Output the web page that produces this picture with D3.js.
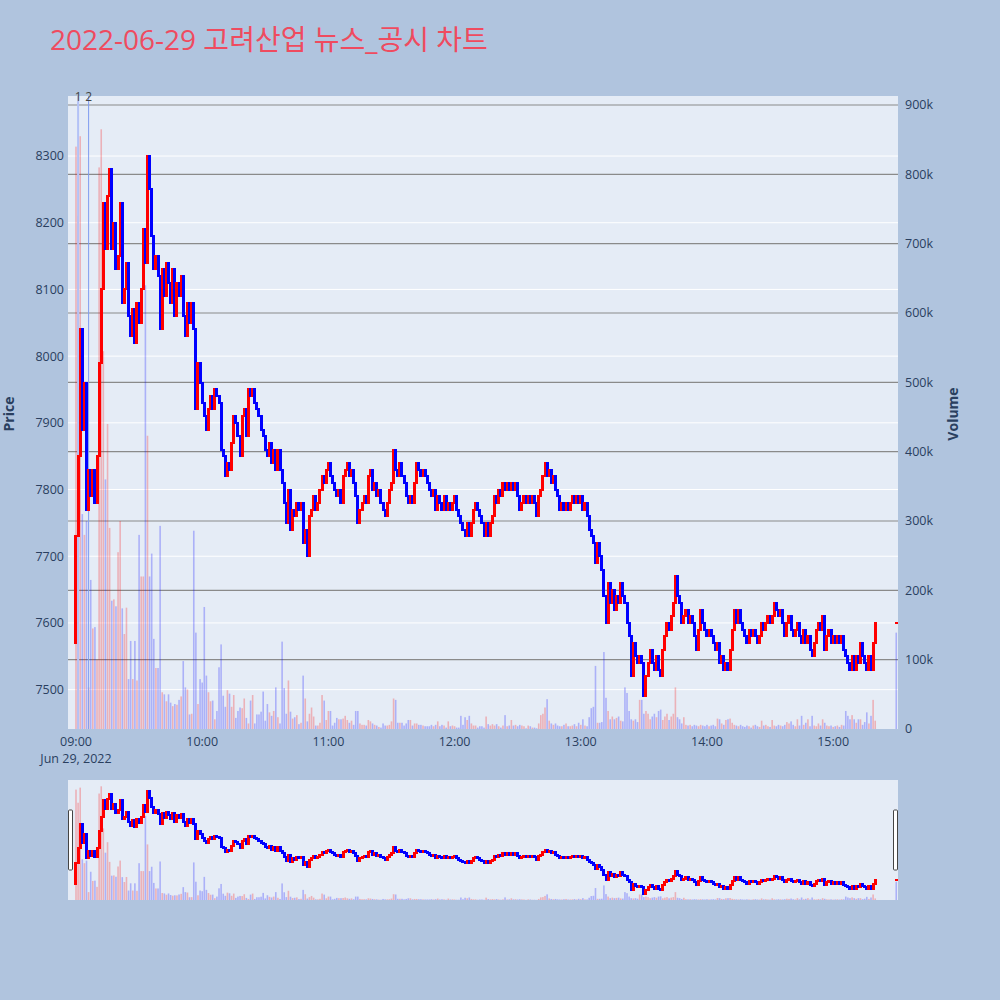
<!DOCTYPE html>
<html>
<head>
<meta charset="utf-8">
<script src="https://cdn.jsdelivr.net/npm/d3@7"></script>
<style>
  body { margin: 0; background: #b0c4de; }
  text { font-family: "Open Sans", "Noto Sans CJK KR", sans-serif; }
</style>
</head>
<body>
<svg id="chart"></svg>
<script>
// ---- chart data ----
const chartTitle = "2022-06-29 고려산업 뉴스_공시 차트";
const tradeDay = [2022, 5, 29];      // Jun 29, 2022
const firstOpen = 7570;              // open of the 09:00 candle

// 1-minute closes, 09:00 .. 15:20
const closes = [
  7730, 7850, 8040, 7890, 7960, 7770, 7830, 7790, 7830, 7780,
  7850, 7990, 8100, 8230, 8160, 8240, 8280, 8160, 8200, 8130,
  8150, 8230, 8080, 8100, 8140, 8060, 8030, 8070, 8020, 8080,
  8050, 8100, 8190, 8140, 8300, 8250, 8180, 8130, 8150, 8120,
  8040, 8130, 8090, 8140, 8110, 8080, 8130, 8060, 8110, 8090,
  8120, 8060, 8030, 8080, 8050, 8080, 8040, 7920, 7990, 7960,
  7930, 7910, 7890, 7920, 7940, 7920, 7950, 7940, 7930, 7860,
  7850, 7820, 7840, 7830, 7870, 7910, 7900, 7880, 7850, 7910,
  7920, 7880, 7950, 7940, 7950, 7930, 7920, 7910, 7890, 7880,
  7860, 7850, 7870, 7840, 7860, 7830, 7860, 7830, 7810, 7780,
  7750, 7800, 7740, 7770, 7760, 7780, 7770, 7780, 7720, 7740,
  7700, 7760, 7770, 7790, 7770, 7780, 7800, 7820, 7810, 7830,
  7840, 7820, 7810, 7800, 7790, 7800, 7780, 7820, 7830, 7840,
  7820, 7830, 7810, 7790, 7750, 7770, 7780, 7790, 7780, 7820,
  7830, 7800, 7810, 7790, 7800, 7780, 7770, 7760, 7780, 7800,
  7810, 7860, 7830, 7820, 7840, 7820, 7810, 7790, 7780, 7790,
  7780, 7810, 7840, 7830, 7820, 7830, 7820, 7810, 7800, 7790,
  7800, 7770, 7790, 7780, 7770, 7790, 7770, 7780, 7770, 7780,
  7790, 7770, 7760, 7750, 7740, 7730, 7750, 7730, 7750, 7770,
  7780, 7770, 7760, 7750, 7730, 7750, 7730, 7750, 7760, 7790,
  7780, 7800, 7790, 7810, 7800, 7810, 7800, 7810, 7800, 7810,
  7790, 7770, 7780, 7790, 7780, 7790, 7780, 7790, 7780, 7760,
  7790, 7800, 7820, 7840, 7820, 7830, 7810, 7820, 7800, 7790,
  7770, 7780, 7770, 7780, 7770, 7780, 7790, 7780, 7790, 7780,
  7790, 7770, 7780, 7760, 7740, 7730, 7720, 7690, 7720, 7700,
  7680, 7640, 7600, 7660, 7630, 7650, 7620, 7640, 7630, 7660,
  7640, 7630, 7600, 7580, 7520, 7570, 7550, 7540, 7550, 7540,
  7490, 7520, 7540, 7560, 7540, 7530, 7550, 7530, 7520, 7560,
  7580, 7600, 7590, 7610, 7630, 7670, 7640, 7630, 7600, 7610,
  7620, 7600, 7610, 7600, 7580, 7560, 7590, 7620, 7600, 7590,
  7580, 7590, 7580, 7570, 7560, 7570, 7540, 7550, 7530, 7540,
  7530, 7560, 7590, 7620, 7600, 7620, 7600, 7590, 7580, 7570,
  7590, 7580, 7590, 7580, 7570, 7580, 7600, 7590, 7600, 7610,
  7600, 7610, 7630, 7620, 7610, 7620, 7600, 7580, 7600, 7610,
  7590, 7580, 7590, 7600, 7580, 7570, 7590, 7570, 7580, 7560,
  7550, 7570, 7590, 7600, 7590, 7610, 7560, 7580, 7590, 7570,
  7580, 7570, 7580, 7570, 7580, 7560, 7550, 7540, 7530, 7550,
  7530, 7550, 7540, 7570, 7550, 7540, 7530, 7550, 7530, 7570,
  7600
];

// 1-minute volumes in thousands of shares, 09:00 .. 15:20
const volumesK = [
  840, 740, 855, 310, 280, 300, 60, 215, 145, 147,
  100, 810, 865, 545, 360, 440, 290, 185, 187, 177,
  255, 300, 174, 137, 175, 72, 127, 72, 127, 70,
  280, 220, 220, 640, 423, 220, 253, 130, 88, 88,
  293, 53, 50, 40, 50, 38, 33, 36, 35, 42,
  47, 98, 60, 57, 21, 22, 286, 139, 36, 72,
  67, 176, 77, 53, 40, 41, 14, 26, 89, 122,
  48, 32, 56, 51, 32, 49, 16, 26, 31, 30,
  44, 16, 8, 41, 49, 8, 21, 21, 25, 54,
  12, 36, 24, 19, 26, 60, 17, 8, 126, 59,
  22, 70, 25, 15, 17, 20, 7, 9, 77, 44,
  11, 22, 31, 18, 5, 5, 9, 49, 41, 13,
  26, 26, 5, 9, 16, 14, 14, 15, 19, 13,
  9, 12, 6, 26, 26, 8, 6, 6, 5, 13,
  11, 8, 6, 5, 3, 2, 8, 5, 5, 6,
  11, 44, 42, 9, 9, 9, 5, 8, 13, 13,
  5, 8, 8, 6, 6, 5, 4, 4, 4, 6,
  4, 6, 11, 4, 6, 5, 2, 11, 4, 5,
  4, 2, 2, 19, 6, 17, 13, 19, 8, 5,
  5, 2, 4, 4, 2, 18, 7, 5, 7, 5,
  7, 4, 2, 5, 20, 4, 5, 13, 5, 6,
  4, 6, 5, 4, 1, 5, 4, 2, 2, 1,
  8, 20, 22, 31, 43, 12, 8, 6, 8, 5,
  4, 4, 6, 8, 4, 4, 5, 7, 4, 9,
  6, 14, 5, 4, 17, 30, 32, 91, 9, 9,
  10, 111, 45, 26, 14, 18, 14, 16, 18, 12,
  11, 60, 52, 26, 14, 12, 14, 10, 42, 42,
  22, 26, 22, 14, 18, 22, 17, 26, 28, 13,
  18, 22, 13, 18, 22, 60, 17, 14, 8, 17,
  6, 5, 6, 4, 6, 5, 4, 6, 5, 4,
  6, 4, 5, 6, 4, 15, 14, 8, 6, 13,
  14, 15, 9, 6, 5, 4, 6, 4, 3, 5,
  4, 2, 5, 6, 4, 3, 12, 5, 6, 4,
  3, 13, 5, 4, 6, 5, 4, 6, 10, 8,
  11, 6, 4, 14, 5, 19, 6, 9, 14, 4,
  19, 5, 4, 8, 5, 14, 9, 5, 4, 5,
  3, 4, 5, 3, 6, 5, 26, 19, 14, 20,
  14, 9, 14, 14, 6, 10, 24, 8, 19, 42,
  12
];

// closing single-price auction
const closeTime = [15, 30];
const closePrice = 7600;
const closeVolumeK = 139;

// news / disclosure markers
const newsTimes = [[9, 1], [9, 6]];
const newsLabels = ["1", "2"];

const priceTicks = [7500, 7600, 7700, 7800, 7900, 8000, 8100, 8200, 8300];
const volumeTicks = [0, 100, 200, 300, 400, 500, 600, 700, 800, 900];
const hourTicks = [9, 10, 11, 12, 13, 14, 15];

// ---- build records ----
const at = (h, m, s) => new Date(tradeDay[0], tradeDay[1], tradeDay[2], h, m, s || 0);

const candles = closes.map((c, i) => {
  const o = i === 0 ? firstOpen : closes[i - 1];
  return { t: at(9, i), open: o, close: c, vol: volumesK[i] };
});
candles.push({ t: at(closeTime[0], closeTime[1]), open: closePrice, close: closePrice, vol: closeVolumeK, auction: true });
candles.forEach((d) => { d.up = d.close >= d.open; });

// ---- layout ----
const width = 1000, height = 1000;
const plot = { left: 68, right: 898, top: 96, bottom: 729 };
const slider = { top: 780, bottom: 900 };

const svg = d3.select("#chart").attr("width", width).attr("height", height);

const x = d3.scaleTime().domain([at(8, 56, 12), at(15, 30, 50)]).range([plot.left, plot.right]);
const yPrice = d3.scaleLinear().domain([7441, 8390]).range([plot.bottom, plot.top]);
const yVol = d3.scaleLinear().domain([0, 913]).range([plot.bottom, plot.top]);
const ysPrice = d3.scaleLinear().domain([7441, 8390]).range([slider.bottom, slider.top]);
const ysVol = d3.scaleLinear().domain([0, 913]).range([slider.bottom, slider.top]);

const upColor = "#ff0000", downColor = "#0000ff";
const upVol = "rgba(255,0,0,0.25)", downVol = "rgba(0,0,255,0.25)";
const axisColor = "#2a3f5f";

// title
svg.append("text")
  .attr("x", 50).attr("y", 50)
  .attr("font-size", 28)
  .attr("fill", "#ef4b5f")
  .text(chartTitle);

// plot background
svg.append("rect")
  .attr("x", plot.left).attr("y", plot.top)
  .attr("width", plot.right - plot.left).attr("height", plot.bottom - plot.top)
  .attr("fill", "#e5ecf6");

svg.append("clipPath").attr("id", "plotClip")
  .append("rect")
  .attr("x", plot.left).attr("y", plot.top)
  .attr("width", plot.right - plot.left).attr("height", plot.bottom - plot.top);

const main = svg.append("g").attr("clip-path", "url(#plotClip)");

// price grid (white)
main.selectAll(".pgrid").data(priceTicks).enter().append("line")
  .attr("x1", plot.left).attr("x2", plot.right)
  .attr("y1", (d) => yPrice(d)).attr("y2", (d) => yPrice(d))
  .attr("stroke", "#ffffff").attr("stroke-width", 1);

// volume grid (grey)
main.selectAll(".vgrid").data(volumeTicks.filter((d) => d > 0)).enter().append("line")
  .attr("x1", plot.left).attr("x2", plot.right)
  .attr("y1", (d) => yVol(d)).attr("y2", (d) => yVol(d))
  .attr("stroke", "#8a8a8a").attr("stroke-width", 1.2);

// volume bars
const barW = 1.6;
main.selectAll(".vbar").data(candles).enter().append("rect")
  .attr("x", (d) => x(d.t) - barW / 2)
  .attr("y", (d) => yVol(d.vol))
  .attr("width", barW)
  .attr("height", (d) => plot.bottom - yVol(d.vol))
  .attr("fill", (d) => (d.up && !d.auction ? upVol : downVol));

// news lines
main.selectAll(".news").data(newsTimes).enter().append("line")
  .attr("x1", (d) => x(at(d[0], d[1]))).attr("x2", (d) => x(at(d[0], d[1])))
  .attr("y1", plot.top).attr("y2", plot.bottom)
  .attr("stroke", (d, i) => (i === 0 ? "#b3c2f6" : "#7f9cf0"))
  .attr("stroke-width", (d, i) => (i === 0 ? 2 : 1));

// candles: solid bodies, a bit wider than the minute step so they join up
function drawCandles(g, yScale, w, pad) {
  g.attr("shape-rendering", "crispEdges");
  g.selectAll(".candle").data(candles).enter().append("rect")
    .attr("x", (d) => x(d.t) - w / 2)
    .attr("y", (d) => yScale(Math.max(d.open, d.close)) - pad)
    .attr("width", w)
    .attr("height", (d) => Math.abs(yScale(d.open) - yScale(d.close)) + 2 * pad)
    .attr("fill", (d) => (d.up ? upColor : downColor));
}
drawCandles(main.append("g"), yPrice, 3, 1);

// news labels
svg.selectAll(".newsLabel").data(newsTimes).enter().append("text")
  .attr("x", (d) => x(at(d[0], d[1])))
  .attr("y", plot.top + 5)
  .attr("text-anchor", "middle")
  .attr("font-size", 12)
  .attr("fill", "#444")
  .text((d, i) => newsLabels[i]);

// left price axis labels
svg.selectAll(".plabel").data(priceTicks).enter().append("text")
  .attr("x", 64).attr("y", (d) => yPrice(d))
  .attr("dy", "0.35em")
  .attr("text-anchor", "end")
  .attr("font-size", 12.5)
  .attr("fill", axisColor)
  .text((d) => d);

// right volume axis labels
svg.selectAll(".vlabel").data(volumeTicks).enter().append("text")
  .attr("x", 905).attr("y", (d) => yVol(d))
  .attr("dy", "0.35em")
  .attr("font-size", 12.5)
  .attr("fill", axisColor)
  .text((d) => (d === 0 ? "0" : d + "k"));

// time axis labels
const fmt = d3.timeFormat("%H:%M");
svg.selectAll(".tlabel").data(hourTicks).enter().append("text")
  .attr("x", (d) => x(at(d, 0))).attr("y", 742)
  .attr("dy", "0.35em")
  .attr("text-anchor", "middle")
  .attr("font-size", 12.5)
  .attr("fill", axisColor)
  .text((d) => fmt(at(d, 0)));

svg.append("text")
  .attr("x", x(at(9, 0))).attr("y", 759)
  .attr("dy", "0.35em")
  .attr("text-anchor", "middle")
  .attr("font-size", 12.5)
  .attr("fill", axisColor)
  .text(d3.timeFormat("%b %-d, %Y")(at(9, 0)));

// axis titles
svg.append("text")
  .attr("transform", "translate(14,414) rotate(-90)")
  .attr("text-anchor", "middle")
  .attr("font-size", 14).attr("font-weight", "bold")
  .attr("fill", axisColor)
  .text("Price");

svg.append("text")
  .attr("transform", "translate(958,414) rotate(-90)")
  .attr("text-anchor", "middle")
  .attr("font-size", 14).attr("font-weight", "bold")
  .attr("fill", axisColor)
  .text("Volume");

// ---- range slider ----
svg.append("rect")
  .attr("x", plot.left).attr("y", slider.top)
  .attr("width", plot.right - plot.left).attr("height", slider.bottom - slider.top)
  .attr("fill", "#e5ecf6");

svg.append("clipPath").attr("id", "sliderClip")
  .append("rect")
  .attr("x", plot.left).attr("y", slider.top)
  .attr("width", plot.right - plot.left).attr("height", slider.bottom - slider.top);

const mini = svg.append("g").attr("clip-path", "url(#sliderClip)");

mini.selectAll(".svbar").data(candles).enter().append("rect")
  .attr("x", (d) => x(d.t) - barW / 2)
  .attr("y", (d) => ysVol(d.vol))
  .attr("width", barW)
  .attr("height", (d) => slider.bottom - ysVol(d.vol))
  .attr("fill", (d) => (d.up && !d.auction ? upVol : downVol));

drawCandles(mini.append("g"), ysPrice, 3, 1);

// slider grabbers
[plot.left, plot.right - 5].forEach((gx) => {
  svg.append("rect")
    .attr("x", gx + 0.5).attr("y", 810)
    .attr("width", 4).attr("height", 60)
    .attr("rx", 1)
    .attr("fill", "#ffffff")
    .attr("stroke", "#444")
    .attr("stroke-width", 1);
});
</script>
</body>
</html>
